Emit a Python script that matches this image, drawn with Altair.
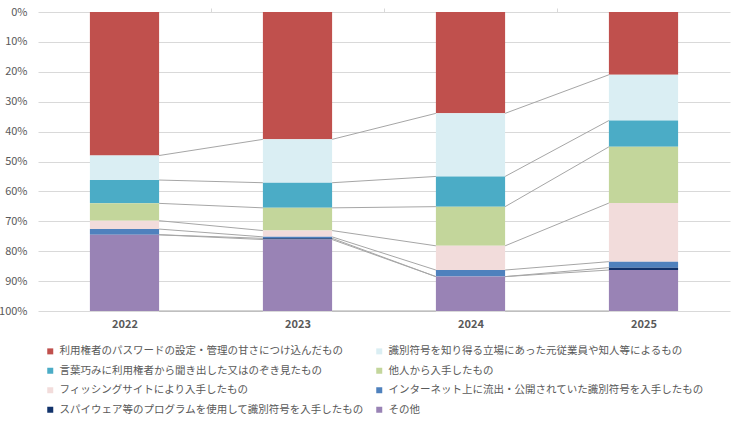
import altair as alt
import pandas as pd

years = ["2022", "2023", "2024", "2025"]
series = [
    "利用権者のパスワードの設定・管理の甘さにつけ込んだもの",
    "識別符号を知り得る立場にあった元従業員や知人等によるもの",
    "言葉巧みに利用権者から聞き出した又はのぞき見たもの",
    "他人から入手したもの",
    "フィッシングサイトにより入手したもの",
    "インターネット上に流出・公開されていた識別符号を入手したもの",
    "スパイウェア等のプログラムを使用して識別符号を入手したもの",
    "その他",
]
colors = ["#C0504D", "#DAEEF3", "#4BACC6", "#C3D69B", "#F2DCDB", "#4F81BD", "#12336B", "#9983B5"]

# share (%) of each series per year
values = {
    "2022": [48.0, 8.2, 7.8, 5.8, 2.8, 1.9, 0.0, 25.5],
    "2023": [42.6, 14.5, 8.4, 7.6, 2.1, 0.5, 0.4, 23.9],
    "2024": [33.9, 21.1, 10.1, 13.1, 8.1, 2.2, 0.0, 11.5],
    "2025": [21.0, 15.3, 8.8, 18.8, 19.6, 2.0, 0.8, 13.7],
}

bar_half = 0.2  # half bar width in category units

rows = []
cums = {}
for i, yr in enumerate(years):
    vals = values[yr]
    tot = sum(vals)
    c = 0.0
    ends = []
    for s, v in zip(series, vals):
        start = c
        c += v / tot
        ends.append(c)
        rows.append({"year": yr, "series": s, "x": i + 0.5 - bar_half,
                     "x2": i + 0.5 + bar_half, "start": start, "end": c})
    cums[yr] = ends
bars_df = pd.DataFrame(rows)

line_rows = []
for i in range(len(years) - 1):
    a, b = years[i], years[i + 1]
    for k in range(len(series)):
        line_rows.append({"x": i + 0.5 + bar_half, "x2": i + 1.5 - bar_half,
                          "y": cums[a][k], "y2": cums[b][k]})
lines_df = pd.DataFrame(line_rows)

# legend is laid out column-major; reorder so it reads row by row
legend_order = series[0::2] + series[1::2]
legend_colors = colors[0::2] + colors[1::2]

FONT = "Noto Sans CJK JP"
label_expr = "[" + ",".join("'%s'" % y for y in years) + "][floor(datum.value)]"

xscale = alt.Scale(domain=[0, len(years)], nice=False, zero=False)
yscale = alt.Scale(domain=[0, 1], reverse=True, nice=False)
yaxis = alt.Axis(format="%", values=[i / 10 for i in range(11)], ticks=False, domain=False,
                 grid=True, gridColor="#D9D9D9", gridWidth=1, labelColor="#595959",
                 labelFontSize=11, labelFont=FONT, labelPadding=11, title=None)

bars = alt.Chart(bars_df).mark_bar(stroke=None).encode(
    x=alt.X("x:Q", scale=xscale,
            axis=alt.Axis(values=[i + 0.5 for i in range(len(years))], labelExpr=label_expr,
                          ticks=False, domain=False, grid=False, labelColor="#595959",
                          labelFontSize=11, labelFont=FONT, labelFontWeight="bold",
                          labelPadding=7, title=None)),
    x2="x2:Q",
    y=alt.Y("start:Q", scale=yscale, axis=yaxis),
    y2="end:Q",
    color=alt.Color("series:N", scale=alt.Scale(domain=legend_order, range=legend_colors),
                    sort=legend_order,
                    legend=alt.Legend(orient="none", legendX=7, legendY=334, columns=2,
                                      title=None, symbolType="square", symbolSize=36,
                                      symbolStrokeWidth=0, labelFontSize=10.5, labelFont=FONT,
                                      labelColor="#595959", labelLimit=0, rowPadding=8.5,
                                      columnPadding=10)),
)

lines = alt.Chart(lines_df).mark_rule(color="#A6A6A6", strokeWidth=1).encode(
    x=alt.X("x:Q", scale=xscale,
            axis=alt.Axis(orient="top", values=list(range(1, len(years))), labels=False,
                          domain=False, grid=False, ticks=True, tickSize=4,
                          tickColor="#D9D9D9", title=None)),
    x2="x2:Q",
    y=alt.Y("y:Q", scale=yscale, axis=yaxis),
    y2="y2:Q",
)

chart = alt.layer(lines, bars).resolve_axis(x="independent").properties(
    width=692, height=299,
    padding={"left": 38, "top": 12, "right": 11, "bottom": 114},
    autosize=alt.AutoSizeParams(type="none"),
).configure_view(stroke=None)

chart.save("out.html", embed_options={"renderer": "svg", "actions": False})
